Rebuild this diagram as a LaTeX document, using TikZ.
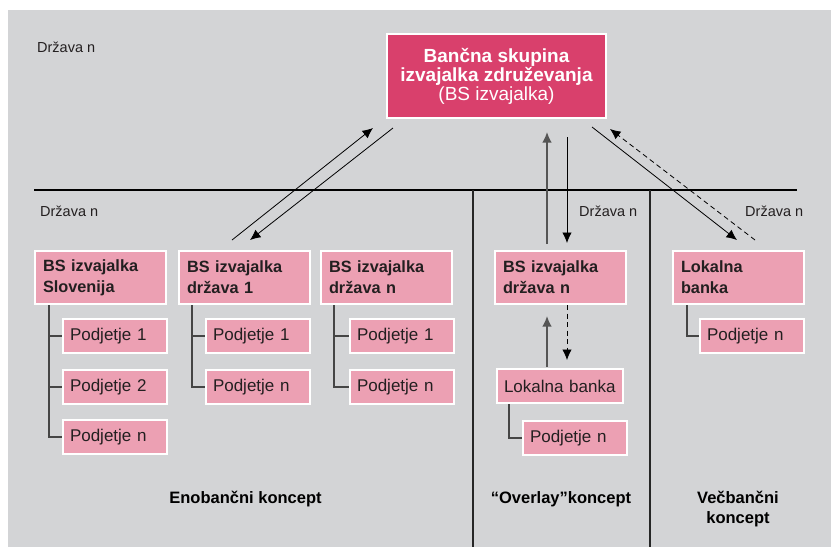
\documentclass[tikz,border=0pt]{standalone}
\usepackage{fontspec}
\setmainfont{Liberation Sans}
\usetikzlibrary{arrows.meta}

\definecolor{bggrey}{HTML}{D3D4D6}
\definecolor{mainpink}{HTML}{D9406C}
\definecolor{lightpink}{HTML}{ECA0B3}
\definecolor{inkdark}{HTML}{231F20}
\definecolor{treegrey}{HTML}{454545}
\definecolor{upgrey}{HTML}{555555}

\tikzset{
  unitbox/.style={draw=white, line width=2pt, fill=lightpink, anchor=north west,
    inner ysep=0pt, text=inkdark, align=left},
  bsbox/.style={unitbox, minimum width=131pt, minimum height=53pt, text width=115pt,
    inner xsep=8pt, font=\bfseries\fontsize{16.3}{21}\selectfont},
  subbox/.style={unitbox, minimum width=104pt, minimum height=34pt, text width=90pt,
    inner xsep=7pt, font=\fontsize{17}{21}\selectfont},
  lokalbox/.style={unitbox, minimum width=126pt, minimum height=34pt, text width=112pt,
    inner xsep=7pt, font=\fontsize{17}{21}\selectfont},
  topbox/.style={draw=white, line width=2pt, fill=mainpink, anchor=north west,
    minimum width=219pt, minimum height=84pt, inner sep=0pt, text=white, align=center},
  countrylabel/.style={anchor=base west, inner sep=0pt, text=inkdark,
    font=\fontsize{14.5}{17}\selectfont},
  conceptlabel/.style={anchor=base, inner sep=0pt, text=black, align=center,
    font=\bfseries\fontsize{16.5}{20}\selectfont},
  tree/.style={draw=treegrey, line width=1.1pt},
  flow/.style={draw=black, line width=0.8pt, -{Latex[length=10.5pt,width=9.5pt]}},
  dashflow/.style={flow, dash pattern=on 5pt off 3.5pt},
  upflow/.style={draw=upgrey, line width=1.6pt, -{Latex[length=10.5pt,width=9.5pt]}, color=upgrey},
  divider/.style={draw=black!85, line width=1.2pt}
}

\begin{document}
\begin{tikzpicture}[x=1pt, y=-1pt]
  \useasboundingbox (0,0) rectangle (831,547);
  \fill[white] (0,0) rectangle (831,547);
  \fill[bggrey] (8,10) rectangle (831,547);

  % country border and concept dividers
  \draw[black, line width=2.2pt] (34,190) -- (797,190);
  \draw[divider] (473,190) -- (473,547);
  \draw[divider] (650,190) -- (650,547);

  % country labels
  \node[countrylabel] (dz0) at (37,52) {Država n};
  \node[countrylabel] (dz1) at (40,216) {Država n};
  \node[countrylabel] (dz2) at (579,216) {Država n};
  \node[countrylabel] (dz3) at (745,216) {Država n};

  % parent banking group
  \node[topbox] (main) at (386,33)
    {\fontsize{19}{21.7}\selectfont\bfseries Bančna skupina\\
     \fontsize{19}{21.7}\selectfont\bfseries izvajalka združevanja\\
     \fontsize{19}{21.7}\selectfont (BS izvajalka)};

  % single-bank concept
  \node[bsbox] (bs1) at (34,250) {BS izvajalka\\Slovenija};
  \node[bsbox] (bs2) at (178,250) {BS izvajalka\\država 1};
  \node[bsbox] (bs3) at (320,250) {BS izvajalka\\država n};

  \node[subbox] (p11) at (62,318) {Podjetje 1};
  \node[subbox] (p12) at (62,369) {Podjetje 2};
  \node[subbox] (p1n) at (62,419) {Podjetje n};

  \node[subbox] (p21) at (205,318) {Podjetje 1};
  \node[subbox] (p2n) at (205,369) {Podjetje n};

  \node[subbox] (p31) at (349,318) {Podjetje 1};
  \node[subbox] (p3n) at (349,369) {Podjetje n};

  % overlay concept
  \node[bsbox] (bs4) at (494,250) {BS izvajalka\\država n};
  \node[lokalbox] (lbo) at (496,368) {Lokalna banka};
  \node[subbox] (p4n) at (522,420) {Podjetje n};

  % multi-bank concept
  \node[bsbox] (lbr) at (672,250) {Lokalna\\banka};
  \node[subbox] (p5n) at (699,318) {Podjetje n};

  % ownership trees
  \draw[tree] ([xshift=15pt]bs1.south west) |- (p1n.west);
  \draw[tree] ([xshift=15pt]bs1.south west |- p11.west) -- (p11.west);
  \draw[tree] ([xshift=15pt]bs1.south west |- p12.west) -- (p12.west);
  \draw[tree] ([xshift=14pt]bs2.south west) |- (p2n.west);
  \draw[tree] ([xshift=14pt]bs2.south west |- p21.west) -- (p21.west);
  \draw[tree] ([xshift=14pt]bs3.south west) |- (p3n.west);
  \draw[tree] ([xshift=14pt]bs3.south west |- p31.west) -- (p31.west);
  \draw[tree] ([xshift=13pt]lbo.south west) |- (p4n.west);
  \draw[tree] ([xshift=15pt]lbr.south west) |- (p5n.west);

  % flow arrow end points
  \coordinate (l1s) at (232,240);
  \coordinate (l1e) at (373,128);
  \coordinate (l2s) at (393,128);
  \coordinate (l2e) at (250,240);
  \coordinate (m1s) at (547,244);
  \coordinate (m1e) at (547,132);
  \coordinate (m2s) at (567,137);
  \coordinate (m2e) at (567,243);
  \coordinate (r1s) at (592,127);
  \coordinate (r1e) at (737,240);
  \coordinate (r2s) at (755,240);
  \coordinate (r2e) at (610,129);
  \coordinate (o1s) at (547,367);
  \coordinate (o1e) at (547,316);
  \coordinate (o2s) at (567,305);
  \coordinate (o2e) at (567,360);

  \draw[flow] (l1s) -- (l1e);
  \draw[flow] (l2s) -- (l2e);
  \draw[upflow] (m1s) -- (m1e);
  \draw[flow] (m2s) -- (m2e);
  \draw[flow] (r1s) -- (r1e);
  \draw[dashflow] (r2s) -- (r2e);
  \draw[upflow] (o1s) -- (o1e);
  \draw[dashflow] (o2s) -- (o2e);

  % concept captions
  \node[conceptlabel] (c1) at (245.5,503) {Enobančni koncept};
  \node[conceptlabel] (c2) at (561,503) {“Overlay”koncept};
  \node[conceptlabel] (c3) at (738,503) {Večbančni};
  \node[conceptlabel] (c4) at (738,523) {koncept};
\end{tikzpicture}
\end{document}
